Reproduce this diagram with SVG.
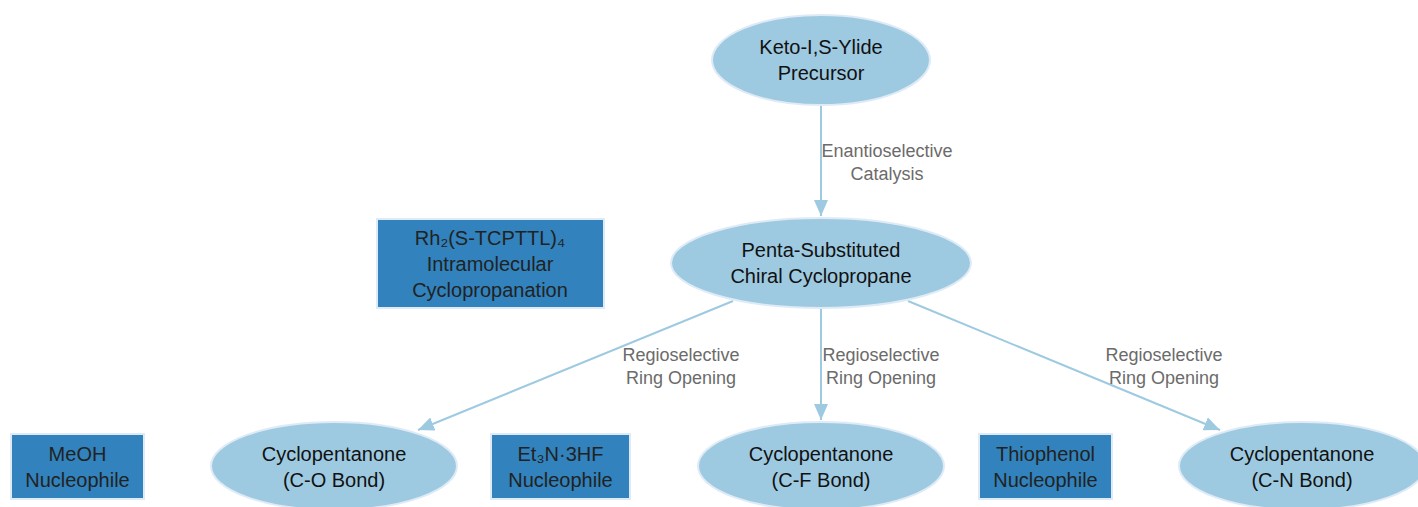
<svg xmlns="http://www.w3.org/2000/svg" width="1418" height="507" viewBox="0 0 1418 507">
<style>
.ell{fill:#9ecae1;stroke:#deebf7;stroke-width:2}
.box{fill:#3182bd;stroke:#deebf7;stroke-width:2}
.nt{font-family:"Liberation Sans",Arial,sans-serif;font-size:20px;fill:#111;text-anchor:middle}
.bt{font-family:"Liberation Sans",Arial,sans-serif;font-size:20px;fill:#222;text-anchor:middle}
.lt{font-family:"Liberation Sans",Arial,sans-serif;font-size:18px;fill:#6b6b6b;text-anchor:middle}
.edge{stroke:#9ecae1;stroke-width:2;fill:none}
</style>
<defs>
<marker id="arr" markerUnits="userSpaceOnUse" markerWidth="16" markerHeight="14" refX="16" refY="7" orient="auto">
<path d="M0,0 L16,7 L0,14 z" fill="#9ecae1"/>
</marker>
</defs>
<rect width="1418" height="507" fill="#ffffff"/>
<g id="connectors">
<line class="edge" x1="821" y1="105" x2="821" y2="216" marker-end="url(#arr)"/>
<line class="edge" x1="733" y1="301" x2="418" y2="430" marker-end="url(#arr)"/>
<line class="edge" x1="821" y1="309" x2="821" y2="420" marker-end="url(#arr)"/>
<line class="edge" x1="908" y1="301" x2="1220" y2="430" marker-end="url(#arr)"/>
<text class="lt" x="887" y="157">Enantioselective</text>
<text class="lt" x="887" y="180">Catalysis</text>
<text class="lt" x="681" y="361">Regioselective</text>
<text class="lt" x="681" y="384">Ring Opening</text>
<text class="lt" x="881" y="361">Regioselective</text>
<text class="lt" x="881" y="384">Ring Opening</text>
<text class="lt" x="1164" y="361">Regioselective</text>
<text class="lt" x="1164" y="384">Ring Opening</text>
</g>
<g id="precursor">
<ellipse class="ell" cx="821" cy="60" rx="109" ry="45"/>
<text class="nt" x="821" y="54">Keto-I,S-Ylide</text>
<text class="nt" x="821" y="80">Precursor</text>
</g>
<g id="cyclopropane">
<ellipse class="ell" cx="821" cy="263" rx="150" ry="45"/>
<text class="nt" x="821" y="257">Penta-Substituted</text>
<text class="nt" x="821" y="283">Chiral Cyclopropane</text>
</g>
<g id="catalyst">
<rect class="box" x="377" y="219" width="227" height="89"/>
<text class="bt" x="490" y="245">Rh₂(S-TCPTTL)₄</text>
<text class="bt" x="490" y="271">Intramolecular</text>
<text class="bt" x="490" y="297">Cyclopropanation</text>
</g>
<g id="meoh">
<rect class="box" x="11" y="434" width="133" height="65"/>
<text class="bt" x="77.5" y="461">MeOH</text>
<text class="bt" x="77.5" y="487">Nucleophile</text>
</g>
<g id="co">
<ellipse class="ell" cx="334" cy="466" rx="123" ry="44"/>
<text class="nt" x="334" y="461">Cyclopentanone</text>
<text class="nt" x="334" y="487">(C-O Bond)</text>
</g>
<g id="et3n">
<rect class="box" x="491" y="434" width="139" height="65"/>
<text class="bt" x="560.5" y="461">Et₃N·3HF</text>
<text class="bt" x="560.5" y="487">Nucleophile</text>
</g>
<g id="cf">
<ellipse class="ell" cx="821" cy="466" rx="123" ry="44"/>
<text class="nt" x="821" y="461">Cyclopentanone</text>
<text class="nt" x="821" y="487">(C-F Bond)</text>
</g>
<g id="thiophenol">
<rect class="box" x="979" y="434" width="133" height="65"/>
<text class="bt" x="1045.5" y="461">Thiophenol</text>
<text class="bt" x="1045.5" y="487">Nucleophile</text>
</g>
<g id="cn">
<ellipse class="ell" cx="1302" cy="466" rx="123" ry="44"/>
<text class="nt" x="1302" y="461">Cyclopentanone</text>
<text class="nt" x="1302" y="487">(C-N Bond)</text>
</g>
</svg>
